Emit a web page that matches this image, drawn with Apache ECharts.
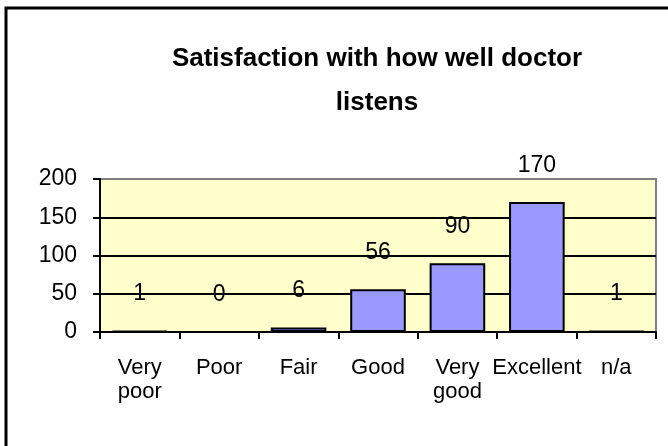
<!DOCTYPE html>
<html>
<head>
<meta charset="utf-8">
<script src="https://cdn.jsdelivr.net/npm/echarts@6/dist/echarts.min.js"></script>
<style>
html,body{margin:0;padding:0;background:#fff;}
#chart{width:668px;height:446px;}
</style>
</head>
<body>
<div id="chart"></div>
<script>
const categories = ['Very\npoor', 'Poor', 'Fair', 'Good', 'Very\ngood', 'Excellent', 'n/a'];
const values = [1, 0, 6, 56, 90, 170, 1];
const yTicks = [0, 50, 100, 150, 200];
const titleText = 'Satisfaction with how well doctor\nlistens';

const chart = echarts.init(document.getElementById('chart'), null, {renderer: 'canvas'});
const font = 'Liberation Sans, Arial, sans-serif';
chart.setOption({
  animation: false,
  backgroundColor: '#fff',
  textStyle: {fontFamily: font},
  graphic: [{
    type: 'rect',
    z: -1,
    shape: {x: 6, y: 8, width: 720, height: 500},
    style: {fill: 'none', stroke: '#000', lineWidth: 3}
  }],
  title: {
    text: titleText,
    left: 377,
    top: 37,
    padding: 0,
    textAlign: 'center',
    textStyle: {fontFamily: font, fontSize: 26, fontWeight: 'bold', color: '#000', lineHeight: 44}
  },
  grid: {
    left: 100, right: 12, top: 179, bottom: 114,
    show: true, backgroundColor: '#FFFFCC', borderColor: '#808080', borderWidth: 2
  },
  xAxis: {
    type: 'category',
    data: categories,
    axisLine: {show: true, lineStyle: {color: '#000', width: 2}},
    axisTick: {show: true, length: 7, lineStyle: {color: '#000', width: 2}},
    axisLabel: {interval: 0, fontSize: 22, color: '#000', margin: 24, lineHeight: 24, fontFamily: font},
    splitLine: {show: false}
  },
  yAxis: {
    type: 'value',
    min: yTicks[0],
    max: yTicks[yTicks.length - 1],
    interval: 50,
    axisLine: {show: true, lineStyle: {color: '#000', width: 2}},
    axisTick: {show: true, length: 7, lineStyle: {color: '#000', width: 2}},
    axisLabel: {fontSize: 23, color: '#000', margin: 23, fontFamily: font},
    splitLine: {show: true, lineStyle: {color: ['#000', '#000', '#000', '#000', '#808080'], width: 2}}
  },
  series: [{
    type: 'bar',
    data: values,
    barCategoryGap: '30%',
    itemStyle: {color: '#9999FF', borderColor: '#000', borderWidth: 2},
    label: {show: true, position: 'top', distance: 25, fontSize: 23, color: '#000', fontFamily: font}
  }]
});
</script>
</body>
</html>
